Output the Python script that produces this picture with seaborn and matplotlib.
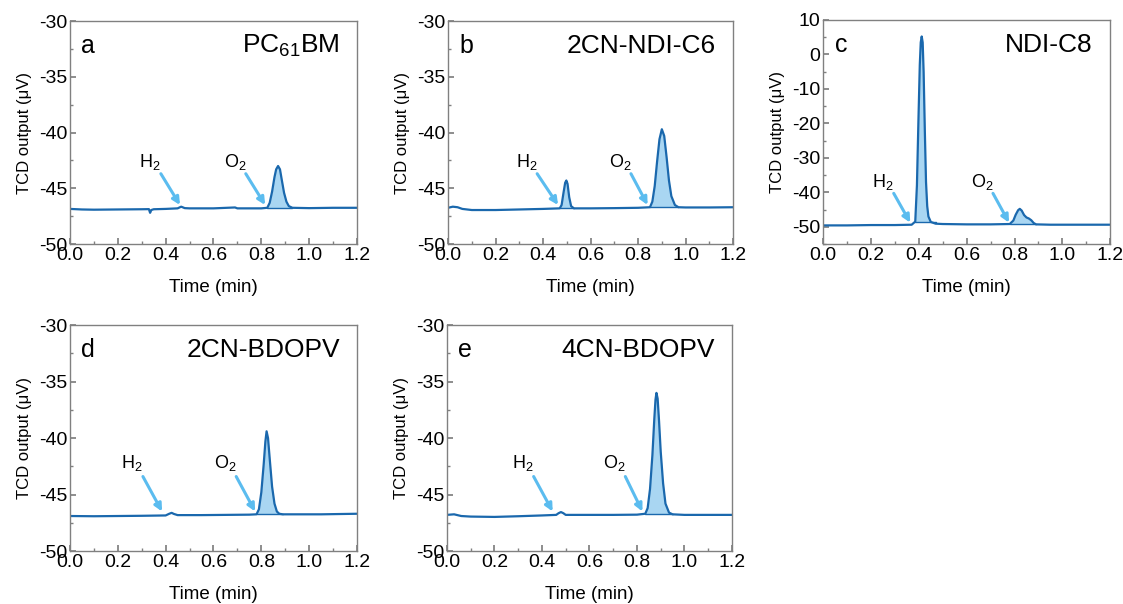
"""
TCD chromatograms (H2 / O2 peaks) for five acceptor materials, 2x3 grid.
"""

import numpy as np
import matplotlib
matplotlib.use('Agg')
import matplotlib.pyplot as plt
import seaborn as sns

# ---- data ----
panel_letters = ['a', 'b', 'c', 'd', 'e']
panel_names = ['PC$_{61}$BM', '2CN-NDI-C6', 'NDI-C8', '2CN-BDOPV', '4CN-BDOPV']

t_a = [0.00, 0.05, 0.10, 0.20, 0.30, 0.33, 0.335, 0.34, 0.35, 0.40, 0.45, 0.465, 0.48, 0.50,
       0.60, 0.69, 0.70, 0.80, 0.825, 0.835, 0.845, 0.855, 0.862, 0.870, 0.878, 0.886, 0.895,
       0.905, 0.915, 0.93, 1.00, 1.10, 1.20]
y_a = [-46.85, -46.9, -46.92, -46.9, -46.88, -46.87, -47.2, -46.95, -46.88, -46.85, -46.8,
       -46.65, -46.78, -46.8, -46.8, -46.72, -46.8, -46.8, -46.75, -46.3, -45.3, -44.0, -43.3,
       -43.0, -43.3, -44.3, -45.4, -46.2, -46.6, -46.75, -46.78, -46.75, -46.75]

t_b = [0.00, 0.02, 0.04, 0.06, 0.10, 0.20, 0.30, 0.40, 0.47, 0.478, 0.486, 0.493, 0.498, 0.503,
       0.510, 0.518, 0.53, 0.60, 0.70, 0.80, 0.85, 0.86, 0.87, 0.88, 0.89, 0.90, 0.91, 0.92,
       0.93, 0.94, 0.955, 0.97, 1.00, 1.10, 1.20]
y_b = [-46.75, -46.65, -46.7, -46.85, -46.95, -46.95, -46.9, -46.85, -46.8, -46.5, -45.4,
       -44.5, -44.3, -44.6, -45.8, -46.6, -46.8, -46.8, -46.78, -46.75, -46.7, -46.2, -44.8,
       -42.6, -40.6, -39.7, -40.3, -42.2, -44.3, -45.7, -46.5, -46.7, -46.72, -46.72, -46.7]

t_c = [0.00, 0.10, 0.20, 0.30, 0.37, 0.385, 0.392, 0.398, 0.404, 0.408, 0.412, 0.416, 0.420,
       0.425, 0.430, 0.435, 0.440, 0.450, 0.47, 0.50, 0.60, 0.70, 0.78, 0.795, 0.805, 0.815,
       0.822, 0.830, 0.840, 0.850, 0.860, 0.870, 0.880, 0.890, 0.95, 1.05, 1.20]
y_c = [-49.6, -49.6, -49.5, -49.5, -49.4, -48.5, -38, -20, -3, 3.5, 5.2, 3.5, -5, -22, -37,
       -44, -47, -48.6, -49.1, -49.2, -49.3, -49.3, -49.2, -48.2, -46.5, -45.2, -44.8, -45.3,
       -46.6, -47.3, -47.6, -48.1, -48.9, -49.3, -49.4, -49.4, -49.4]

t_d = [0.00, 0.10, 0.20, 0.30, 0.40, 0.415, 0.425, 0.435, 0.45, 0.55, 0.65, 0.75, 0.78, 0.790,
       0.800, 0.810, 0.817, 0.822, 0.828, 0.835, 0.845, 0.855, 0.865, 0.875, 0.89, 0.95, 1.05,
       1.20]
y_d = [-46.9, -46.92, -46.9, -46.88, -46.85, -46.7, -46.62, -46.72, -46.82, -46.82, -46.8,
       -46.78, -46.75, -46.3, -44.8, -42.3, -40.3, -39.4, -40.0, -41.8, -44.3, -45.8, -46.5,
       -46.7, -46.75, -46.75, -46.75, -46.7]

t_e = [0.00, 0.03, 0.06, 0.10, 0.20, 0.30, 0.40, 0.46, 0.47, 0.48, 0.49, 0.50, 0.60, 0.70,
       0.80, 0.835, 0.845, 0.855, 0.865, 0.873, 0.878, 0.882, 0.887, 0.893, 0.90, 0.91, 0.92,
       0.935, 0.95, 1.00, 1.10, 1.20]
y_e = [-46.8, -46.75, -46.9, -46.95, -46.98, -46.92, -46.85, -46.8, -46.65, -46.55, -46.65,
       -46.8, -46.8, -46.8, -46.78, -46.7, -46.2, -44.5, -41.5, -38.3, -36.6, -36.0, -36.5,
       -38.5, -41.2, -44.0, -45.8, -46.6, -46.75, -46.8, -46.8, -46.8]

times = [t_a, t_b, t_c, t_d, t_e]
signals = [y_a, y_b, y_c, y_d, y_e]

# retention windows that get shaded
peak_windows = [
    [(0.825, 0.93)],
    [(0.47, 0.53), (0.85, 0.97)],
    [(0.385, 0.47), (0.78, 0.89)],
    [(0.78, 0.89)],
    [(0.835, 0.95)],
]

# (label x, label y, arrow tip x, arrow tip y) for H2 and O2
h2_marks = [(0.335, -42.6, 0.46, -46.5), (0.33, -42.6, 0.463, -46.5), (0.25, -37.0, 0.364, -48.8),
            (0.26, -42.2, 0.385, -46.5), (0.32, -42.2, 0.445, -46.5)]
o2_marks = [(0.69, -42.6, 0.816, -46.5), (0.725, -42.6, 0.84, -46.5), (0.665, -37.0, 0.777, -48.8),
            (0.65, -42.2, 0.774, -46.5), (0.706, -42.2, 0.823, -46.5)]

# axes rectangles in figure fraction (left, bottom, width, height)
rects = [(0.0623, 0.596, 0.2556, 0.369), (0.399, 0.596, 0.2538, 0.369),
         (0.733, 0.596, 0.2556, 0.371), (0.0623, 0.0877, 0.2556, 0.374),
         (0.398, 0.0877, 0.2538, 0.374)]

LINE = '#1a68ad'
FILL = '#a9d6f2'
ARROW = '#5bbcef'
FRAME = '#808080'

sns.set_theme(style='ticks')
plt.rcParams['font.family'] = ['Liberation Sans', 'DejaVu Sans']
plt.rcParams['mathtext.fontset'] = 'custom'
plt.rcParams['mathtext.rm'] = 'Liberation Sans'
plt.rcParams['mathtext.it'] = 'Liberation Sans'
plt.rcParams['axes.unicode_minus'] = False
plt.rcParams['text.color'] = 'black'
plt.rcParams['axes.labelcolor'] = 'black'
plt.rcParams['xtick.labelcolor'] = 'black'
plt.rcParams['ytick.labelcolor'] = 'black'

fig = plt.figure(figsize=(11.23, 6.04), dpi=100)

for i in range(5):
    ax = fig.add_axes(rects[i])
    t = np.array(times[i])
    y = np.array(signals[i])

    for lo, hi in peak_windows[i]:
        m = (t >= lo) & (t <= hi)
        base = y[m][0]
        ax.fill_between(t[m], y[m], base, color=FILL, lw=0)
        ax.plot([t[m][0], t[m][-1]], [base, base], color=LINE, lw=1.0)

    sns.lineplot(x=t, y=y, ax=ax, color=LINE, lw=1.6)

    for (lx, ly, tx, ty), lab in [(h2_marks[i], 'H$_2$'), (o2_marks[i], 'O$_2$')]:
        ax.text(lx, ly, lab, ha='center', va='center', fontsize=13)
        dy = (ty - ly)
        ax.annotate('', xy=(tx, ty), xytext=(lx + 0.045, ly + dy * 0.28),
                    arrowprops=dict(arrowstyle='-|>', color=ARROW, lw=2.2,
                                    mutation_scale=11, shrinkA=0, shrinkB=0))

    ax.set_xlim(0, 1.2)
    ax.set_xticks(np.arange(0, 1.21, 0.2))
    ax.set_xticks(np.arange(0.1, 1.2, 0.2), minor=True)
    if i == 2:
        ax.set_ylim(-55, 10)
        ax.set_yticks(np.arange(-50, 11, 10))
        ax.set_yticks(np.arange(-55, 10, 10), minor=True)
    else:
        ax.set_ylim(-50, -30)
        ax.set_yticks(np.arange(-50, -29, 5))
        ax.set_yticks(np.arange(-47.5, -30, 5), minor=True)

    ax.tick_params(which='both', direction='in', color=FRAME, labelsize=14, pad=2)
    ax.tick_params(which='major', length=4)
    ax.tick_params(which='minor', length=2)
    for s in ax.spines.values():
        s.set_color(FRAME)
        s.set_linewidth(1.0)

    ax.set_xlabel('Time (min)', fontsize=13.5, labelpad=11)
    ax.set_ylabel('TCD output (μV)', fontsize=12, labelpad=5)

    ax.text(0.04, 0.89, panel_letters[i], transform=ax.transAxes, fontsize=18,
            ha='left', va='center')
    ax.text(0.94, 0.89, panel_names[i], transform=ax.transAxes, fontsize=19,
            ha='right', va='center')

fig.savefig('out.png', dpi=100)
